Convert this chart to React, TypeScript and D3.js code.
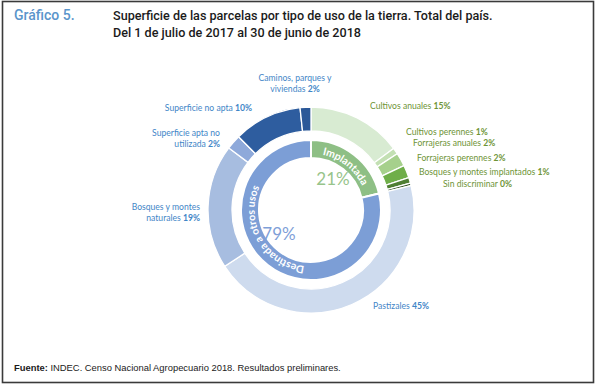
import React, { useRef, useEffect } from "react";
import * as d3 from "d3";

// Outer ring: detail of land use (% of total surface)
const outerNames = [
	"Cultivos anuales",
	"Cultivos perennes",
	"Forrajeras anuales",
	"Forrajeras perennes",
	"Bosques y montes implantados",
	"Sin discriminar",
	"Pastizales",
	"Bosques y montes naturales",
	"Superficie apta no utilizada",
	"Superficie no apta",
	"Caminos, parques y viviendas",
];
const outerValues = [14.8, 1.0, 2.1, 2.0, 0.9, 0.4, 44.6, 19.5, 2.3, 10.7, 1.7];
const outerLabels = ["15%", "1%", "2%", "2%", "1%", "0%", "45%", "19%", "2%", "10%", "2%"];
const outerColors = [
	"#d8ebd2",
	"#c3e0b3",
	"#a6d08c",
	"#6fae49",
	"#4f7f33",
	"#355524",
	"#cedbee",
	"#a7bde0",
	"#8ea9da",
	"#2e5d9f",
	"#2b5898",
];

// Inner ring: aggregated groups
const innerNames = ["Implantada", "Destinada a otros usos"];
const innerValues = [21.2, 78.8];
const innerLabels = ["21%", "79%"];
const innerColors = ["#8ebf85", "#7c9ed6"];

// Label placement (annotation layout, one per outer slice)
const labelLayout: { x: number; y: number; anchor: string; lines: string[] }[] = [
	{ x: 370, y: 109, anchor: "start", lines: ["Cultivos anuales"] },
	{ x: 406, y: 135, anchor: "start", lines: ["Cultivos perennes"] },
	{ x: 413, y: 146, anchor: "start", lines: ["Forrajeras anuales"] },
	{ x: 417, y: 161, anchor: "start", lines: ["Forrajeras perennes"] },
	{ x: 419, y: 175, anchor: "start", lines: ["Bosques y montes implantados"] },
	{ x: 443, y: 187, anchor: "start", lines: ["Sin discriminar"] },
	{ x: 373, y: 309, anchor: "start", lines: ["Pastizales"] },
	{ x: 200, y: 210, anchor: "end", lines: ["Bosques y montes", "naturales"] },
	{ x: 220, y: 136, anchor: "end", lines: ["Superficie apta no", "utilizada"] },
	{ x: 252, y: 111, anchor: "end", lines: ["Superficie no apta"] },
	{ x: 295, y: 81, anchor: "middle", lines: ["Caminos, parques y", "viviendas"] },
];

const W = 597;
const H = 387;
const CX = 311;
const CY = 210;
const LABEL_FONT = "Lato, 'Open Sans', sans-serif";

const App: React.FC = () => {
	const svgRef = useRef<SVGSVGElement | null>(null);

	useEffect(() => {
		const svgEl = svgRef.current;
		if (!svgEl) return;
		const svg = d3.select(svgEl);
		svg.selectAll("*").remove();

		// Frame
		svg
			.append("rect")
			.attr("x", 2.5)
			.attr("y", 1.5)
			.attr("width", 591)
			.attr("height", 381)
			.attr("fill", "#fff")
			.attr("stroke", "#3a3a3a")
			.attr("stroke-width", 1.6);

		// Title
		svg
			.append("text")
			.attr("x", 14)
			.attr("y", 20)
			.attr("fill", "#5a95cb")
			.attr("font-family", "Roboto, sans-serif")
			.attr("font-weight", 500)
			.attr("font-size", 14)
			.text("Gráfico 5.");
		const titleLines = [
			"Superficie de las parcelas por tipo de uso de la tierra. Total del país.",
			"Del 1 de julio de 2017 al 30 de junio de 2018",
		];
		titleLines.forEach((t, i) => {
			svg
				.append("text")
				.attr("x", 113)
				.attr("y", 20 + i * 17)
				.attr("fill", "#1b1b1b")
				.attr("font-family", "Roboto, sans-serif")
				.attr("font-weight", 500)
				.attr("font-size", 12.6)
				.text(t);
		});

		const g = svg.append("g").attr("transform", `translate(${CX},${CY})`);

		const pie = d3.pie<number>().sort(null).value((d) => d);

		// Outer ring
		const outerArc = d3.arc<d3.PieArcDatum<number>>().innerRadius(79).outerRadius(103);
		g.selectAll("path.outer")
			.data(pie(outerValues))
			.enter()
			.append("path")
			.attr("class", "outer")
			.attr("d", outerArc)
			.attr("fill", (_, i) => outerColors[i])
			.attr("stroke", "#fff")
			.attr("stroke-width", 1.3)
			.append("title")
			.text((_, i) => outerNames[i]);

		// Inner ring
		const innerArc = d3.arc<d3.PieArcDatum<number>>().innerRadius(52).outerRadius(70);
		const innerPie = pie(innerValues);
		g.selectAll("path.inner")
			.data(innerPie)
			.enter()
			.append("path")
			.attr("class", "inner")
			.attr("d", innerArc)
			.attr("fill", (_, i) => innerColors[i])
			.attr("stroke", "#fff")
			.attr("stroke-width", 2);

		// Curved names in the inner ring (clockwise circle from top)
		const rText = 56.5;
		g.append("path")
			.attr("id", "ringPath")
			.attr("fill", "none")
			.attr("d", `M0,${-rText} A${rText},${rText} 0 1,1 0,${rText} A${rText},${rText} 0 1,1 0,${-rText}`);
		const circ = 2 * Math.PI * rText;
		const textMid = [
			(innerPie[0].startAngle + innerPie[0].endAngle) / 2,
			(innerPie[1].startAngle + innerPie[1].endAngle) / 2 + 0.38,
		];
		innerNames.forEach((name, i) => {
			g.append("text")
				.attr("fill", "#fff")
				.attr("font-family", LABEL_FONT)
				.attr("font-weight", 700)
				.attr("font-size", 10.5)
				.append("textPath")
				.attr("href", "#ringPath")
				.attr("startOffset", (textMid[i] / (2 * Math.PI)) * circ)
				.attr("text-anchor", "middle")
				.text(name);
		});

		// Big percentages inside
		const pctPos = [
			[22, -25],
			[-32, 30],
		];
		innerLabels.forEach((t, i) => {
			g.append("text")
				.attr("x", pctPos[i][0])
				.attr("y", pctPos[i][1])
				.attr("text-anchor", "middle")
				.attr("fill", i === 0 ? "#97c48b" : "#7f9fd8")
				.attr("font-family", LABEL_FONT)
				.attr("font-size", 17)
				.text(t);
		});

		// Outer labels
		labelLayout.forEach((lab, i) => {
			const isGreen = i < 6;
			const txt = svg
				.append("text")
				.attr("text-anchor", lab.anchor)
				.attr("font-family", LABEL_FONT)
				.attr("font-size", 8.6)
				.attr("fill", isGreen ? "#6e9436" : "#3f86c7");
			lab.lines.forEach((line, j) => {
				const last = j === lab.lines.length - 1;
				txt
					.append("tspan")
					.attr("x", lab.x)
					.attr("y", lab.y + j * 11)
					.text(line + (last ? " " : ""));
				if (last) {
					txt.append("tspan").attr("font-weight", 700).text(outerLabels[i]);
				}
			});
		});

		// Source
		const src = svg
			.append("text")
			.attr("x", 14)
			.attr("y", 371)
			.attr("fill", "#1b1b1b")
			.attr("font-family", "'Liberation Sans', Arial, sans-serif")
			.attr("font-size", 9.4);
		src.append("tspan").attr("font-weight", 700).text("Fuente:");
		src.append("tspan").text(" INDEC. Censo Nacional Agropecuario 2018. Resultados preliminares.");
	}, []);

	return (
		<svg
			ref={svgRef}
			width={W}
			height={H}
			style={{ position: "absolute", left: 0, top: 0, display: "block" }}
		/>
	);
};

export default App;
